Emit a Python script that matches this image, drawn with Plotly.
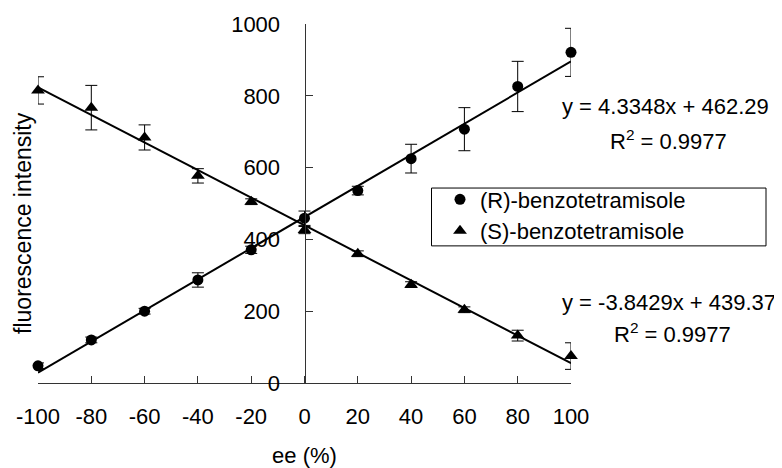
import plotly.graph_objects as go

# ---- data ----
ee = [-100, -80, -60, -40, -20, 0, 20, 40, 60, 80, 100]
r_values = [48, 120, 200, 287, 371, 459, 536, 625, 707, 826, 921]
r_errors = [8, 8, 8, 20, 10, 20, 12, 40, 60, 70, 67]
s_values = [815, 767, 684, 577, 505, 426, 360, 274, 204, 132, 75]
s_errors = [38, 62, 35, 20, 8, 10, 8, 8, 8, 15, 37]
r_slope, r_intercept = 4.3348, 462.29
s_slope, s_intercept = -3.8429, 439.37
r_label = "(R)-benzotetramisole"
s_label = "(S)-benzotetramisole"
x_ticks = [-100, -80, -60, -40, -20, 0, 20, 40, 60, 80, 100]
y_ticks = [0, 200, 400, 600, 800, 1000]
trend_x = [-100, 100]

FONT = "Liberation Sans, Arial, sans-serif"
FS = 22

# plot area in screen pixels (page body adds an 8px offset)
PL, PT, PW, PH = 38, 23.5, 533, 360
def px(x):
    return (x - PL) / PW
def py(y):
    return (PT + PH - y) / PH

fig = go.Figure()

fig.add_trace(go.Scatter(
    x=trend_x, y=[r_slope * v + r_intercept for v in trend_x],
    mode="lines", line=dict(color="black", width=2), showlegend=False,
    hoverinfo="skip", cliponaxis=False))
fig.add_trace(go.Scatter(
    x=trend_x, y=[s_slope * v + s_intercept for v in trend_x],
    mode="lines", line=dict(color="black", width=2), showlegend=False,
    hoverinfo="skip", cliponaxis=False))

fig.add_trace(go.Scatter(
    x=ee, y=r_values, name=r_label, mode="markers",
    marker=dict(symbol="circle", size=11, color="black"),
    error_y=dict(type="data", array=r_errors, color="black", thickness=1, width=6),
    cliponaxis=False))
fig.add_trace(go.Scatter(
    x=ee, y=s_values, name=s_label, mode="markers",
    marker=dict(symbol="triangle-up", size=12, color="black"),
    error_y=dict(type="data", array=s_errors, color="black", thickness=1, width=6),
    cliponaxis=False))

fig.update_layout(
    width=774, height=460,
    margin=dict(l=PL - 8, r=774 - (PL - 8) - PW, t=PT - 8, b=460 - (PT - 8) - PH, autoexpand=False),
    paper_bgcolor="white", plot_bgcolor="white",
    font=dict(family=FONT, size=FS, color="black"),
    showlegend=True,
    legend=dict(
        x=px(440), y=py(215.5), xanchor="left", yanchor="middle",
        borderwidth=0, bgcolor="rgba(0,0,0,0)",
        font=dict(family=FONT, size=FS, color="black"),
        tracegroupgap=0,
    ),
    xaxis=dict(
        range=[-100, 100], tickvals=x_ticks, ticktext=[str(v) for v in x_ticks],
        showgrid=False, zeroline=False, showline=True, linecolor="#333",
        linewidth=1, ticks="inside", ticklen=7, tickcolor="#333",
        ticklabelstandoff=14, automargin=False,
        title=dict(text="ee (%)", standoff=23, font=dict(size=FS)),
    ),
    yaxis=dict(
        range=[0, 1000], tickvals=y_ticks, ticktext=[str(v) for v in y_ticks],
        anchor="free", position=0.5,
        showgrid=False, zeroline=False, showline=True, linecolor="#333",
        linewidth=1, ticks="inside", ticklen=7, tickcolor="#333",
        ticklabelstandoff=20, automargin=False,
    ),
    shapes=[
        dict(type="rect", xref="paper", yref="paper",
             x0=px(431.5), x1=px(766), y0=py(246), y1=py(188),
             line=dict(color="black", width=1), fillcolor="white", layer="below"),
    ],
    annotations=[
        dict(text="fluorescence intensity", xref="paper", yref="paper",
             x=px(23), y=py(223), textangle=-90, showarrow=False,
             xanchor="center", yanchor="middle", font=dict(size=23)),
        dict(text="y = 4.3348x + 462.29", xref="paper", yref="paper",
             x=px(665), y=py(106.7), showarrow=False,
             xanchor="center", yanchor="middle", font=dict(size=FS)),
        dict(text="R<sup>2</sup> = 0.9977", xref="paper", yref="paper",
             x=px(668), y=py(140), showarrow=False,
             xanchor="center", yanchor="middle", font=dict(size=FS)),
        dict(text="y = -3.8429x + 439.37", xref="paper", yref="paper",
             x=px(669), y=py(302.7), showarrow=False,
             xanchor="center", yanchor="middle", font=dict(size=FS)),
        dict(text="R<sup>2</sup> = 0.9977", xref="paper", yref="paper",
             x=px(672), y=py(333), showarrow=False,
             xanchor="center", yanchor="middle", font=dict(size=FS)),
    ],
)

fig.write_html("out.html")
